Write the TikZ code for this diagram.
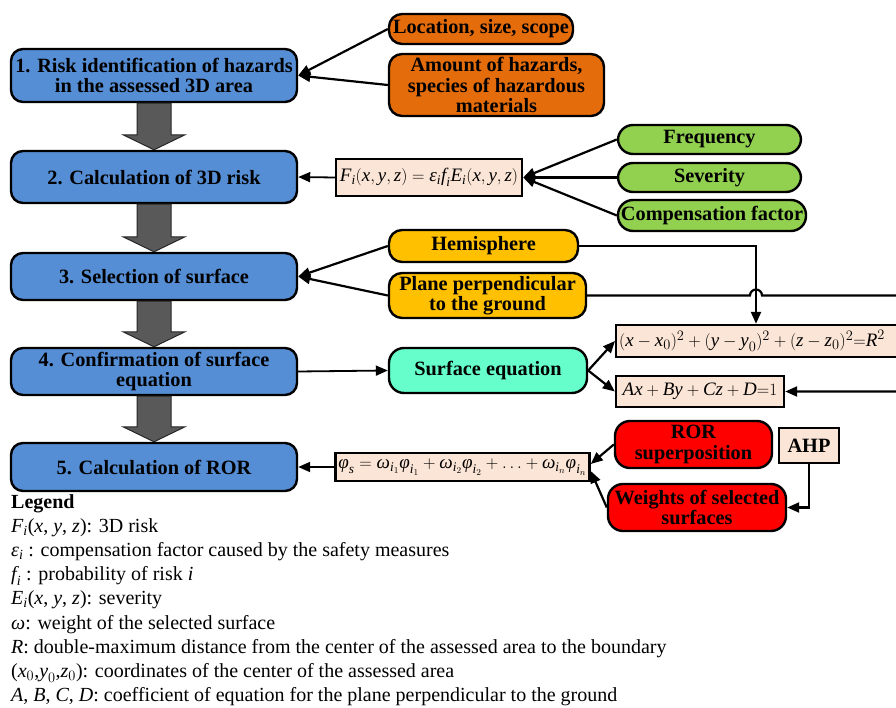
\documentclass[tikz,border=0pt]{standalone}
\usepackage{amsmath}
\usepackage{fontspec}
\setmainfont{Liberation Serif}
\usetikzlibrary{arrows.meta,calc}
\definecolor{stepblue}{HTML}{558ED5}
\definecolor{hazorange}{HTML}{E46C0A}
\definecolor{riskgreen}{HTML}{92D050}
\definecolor{surfyellow}{HTML}{FFC000}
\definecolor{surfmint}{HTML}{66FFCC}
\definecolor{rorred}{HTML}{FF0000}
\definecolor{eqpeach}{HTML}{FBE5D6}
\definecolor{arrgray}{HTML}{595959}
\newcommand{\boxfont}{\fontsize{20.3}{20.5}\selectfont\bfseries}
\newcommand{\eqfont}{\fontsize{19}{20}\selectfont}
\newcommand{\ivar}[1]{\textit{#1}}
\newcommand{\xyz}{(\ivar{x},\ivar{y},\ivar{z})}
\newcommand{\grayarr}[2]{%
  \draw[bigarr] let \p1=(#1.south), \p2=(#2.north) in
    (\x1-17pt,\y1) -- (\x1+17pt,\y1) -- (\x1+17pt,\y2+15pt) -- (\x1+31pt,\y2+15pt)
    -- (\x1,\y2) -- (\x1-31pt,\y2+15pt) -- (\x1-17pt,\y2+15pt) -- cycle;}
\tikzset{
  stepbox/.style={draw, line width=2.4pt, fill=stepblue, rounded corners=12pt,
                  minimum width=286pt, inner sep=2pt, align=center, font=\boxfont},
  inbox/.style={draw, line width=2.4pt, rounded corners=13pt, inner sep=2pt,
                align=center, font=\boxfont},
  eqbox/.style={draw, line width=2.4pt, fill=eqpeach, inner sep=3pt, font=\eqfont},
  arr/.style={-{Triangle[length=12pt,width=10pt]}, line width=2.2pt},
  bigarr/.style={fill=arrgray, draw=black!85, line width=1pt}}
\begin{document}
\begin{tikzpicture}[x=1pt,y=-1pt]
\useasboundingbox (0,0) rectangle (896,708);
% main steps
\node[stepbox, minimum height=53pt] (b1) at (154,75.5) {1. Risk identification of hazards\\in the assessed 3D area};
\node[stepbox, minimum height=52pt] (b2) at (154,177) {2. Calculation of 3D risk};
\node[stepbox, minimum height=47pt] (b3) at (154,276.5) {3. Selection of surface};
\node[stepbox, minimum height=47pt] (b4) at (154,371.5) {4. Confirmation of surface\\equation};
\node[stepbox, minimum height=48pt] (b5) at (154,467) {5. Calculation of ROR};
\grayarr{b1}{b2}
\grayarr{b2}{b3}
\grayarr{b3}{b4}
\grayarr{b4}{b5}
% step 1 inputs
\node[inbox, fill=hazorange, minimum width=184pt, minimum height=30pt] (loc) at (481,29) {Location, size, scope};
\node[inbox, fill=hazorange, minimum width=215pt, minimum height=62pt] (amount) at (496.5,85) {Amount of hazards,\\species of hazardous\\materials};
\draw[arr] (loc.west) -- (b1.east);
\draw[arr] (amount.west) -- (b1.east);
% step 2 inputs
\node[eqbox, minimum width=186pt, minimum height=37pt] (feq) at (429,177.5) {$\ivar{F}_{\ivar{i}}\xyz=\ivar{ε}_{\ivar{i}}\ivar{f}_{\ivar{i}}\ivar{E}_{\ivar{i}}\xyz$};
\node[inbox, fill=riskgreen, rounded corners=15pt, minimum width=183pt, minimum height=29pt] (freq) at (709.5,139.5) {Frequency};
\node[inbox, fill=riskgreen, rounded corners=15pt, minimum width=183pt, minimum height=29pt] (sev) at (709.5,177.5) {Severity};
\node[inbox, fill=riskgreen, rounded corners=15pt, minimum width=188pt, minimum height=31pt] (comp) at (712,215.5) {Compensation factor};
\draw[arr] (freq.west) -- (feq.east);
\draw[arr] (sev.west) -- (feq.east);
\draw[arr] (comp.west) -- (feq.east);
\draw[arr, line width=1.8pt] (feq.west) -- (b2.east);
% step 3 inputs
\node[inbox, fill=surfyellow, minimum width=189pt, minimum height=32pt] (hemi) at (483.5,246) {Hemisphere};
\node[inbox, fill=surfyellow, minimum width=197pt, minimum height=45pt] (plane) at (487.5,295.5) {Plane perpendicular\\to the ground};
\draw[arr] (hemi.west) -- (b3.east);
\draw[arr] (plane.west) -- (b3.east);
% step 4
\node[inbox, fill=surfmint, rounded corners=15pt, minimum width=198pt, minimum height=45pt] (surf) at (488,370.5) {Surface equation};
\node[eqbox, anchor=west, minimum height=32pt, text width=292pt] (sphere) at (615,341) {$(\ivar{x}-\ivar{x}_0)^2+(\ivar{y}-\ivar{y}_0)^2+(\ivar{z}-\ivar{z}_0)^2{=}\ivar{R}^2$};
\node[eqbox, minimum width=168pt, minimum height=31pt] (planeq) at (700,391.5) {$\ivar{Ax}+\ivar{By}+\ivar{Cz}+\ivar{D}{=}1$};
\draw[arr, line width=1.8pt] (b4.east) -- (surf.west);
\draw[arr] (surf.east) -- (sphere.west);
\draw[arr] (surf.east) -- (planeq.west);
\coordinate (hop) at (756,295.5);
\coordinate (edge) at (906,295.5);
\draw[arr] (hemi.east) -| (hop |- sphere.north);
\draw[arr] (plane.east) -- ([xshift=-6pt]hop) arc[start angle=180, end angle=0, radius=6pt] -- (edge) |- (planeq.east);
% step 5
\node[eqbox, minimum width=251pt, minimum height=28pt] (phi) at (462.5,467) {$\ivar{φ}_{\ivar{s}}=\ivar{ω}_{\ivar{i}_1}\ivar{φ}_{\ivar{i}_1}+\ivar{ω}_{\ivar{i}_2}\ivar{φ}_{\ivar{i}_2}+\ldots+\ivar{ω}_{\ivar{i}_n}\ivar{φ}_{\ivar{i}_n}$};
\node[inbox, fill=rorred, rounded corners=15pt, minimum width=157pt, minimum height=47pt] (ror) at (693.5,444.5) {ROR\\superposition};
\node[inbox, fill=rorred, rounded corners=15pt, minimum width=178pt, minimum height=47pt] (weights) at (697,507.5) {Weights of selected\\surfaces};
\node[eqbox, font=\boxfont, minimum width=60pt, minimum height=35pt] (ahp) at (809,445.5) {AHP};
\draw[arr, line width=1.8pt] (phi.west) -- (b5.east);
\draw[arr] (ror.west) -- ([yshift=3pt]phi.east);
\draw[arr] (weights.west) -- ([yshift=-4pt]phi.east);
\draw[arr] (ahp.south) |- (weights.east);
% legend
\node[anchor=north west, inner sep=0pt, align=left, font=\fontsize{20}{24.2}\selectfont] (legend) at (11,494) {%
  {\bfseries Legend}\\
  $\ivar{F}_{\ivar{i}}$(\ivar{x}, \ivar{y}, \ivar{z}): 3D risk\\
  $\ivar{ε}_{\ivar{i}}$ : compensation factor caused by the safety measures\\
  $\ivar{f}_{\ivar{i}}$ : probability of risk \ivar{i}\\
  $\ivar{E}_{\ivar{i}}$(\ivar{x}, \ivar{y}, \ivar{z}): severity\\
  \ivar{ω}: weight of the selected surface\\
  \ivar{R}: double-maximum distance from the center of the assessed area to the boundary\\
  ($\ivar{x}_0$,$\ivar{y}_0$,$\ivar{z}_0$): coordinates of the center of the assessed area\\
  \ivar{A}, \ivar{B}, \ivar{C}, \ivar{D}: coefficient of equation for the plane perpendicular to the ground};
\end{tikzpicture}
\end{document}
